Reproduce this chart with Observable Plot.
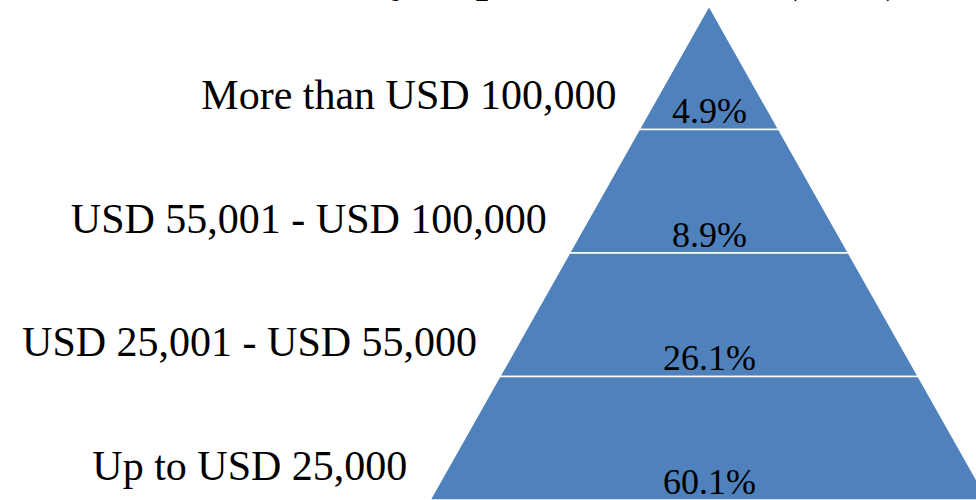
<!DOCTYPE html>
<html>
<head>
<meta charset="utf-8">
<script src="https://cdn.jsdelivr.net/npm/d3@7"></script>
<script src="https://cdn.jsdelivr.net/npm/@observablehq/plot@0.6"></script>
<style>
  html, body { margin: 0; padding: 0; background: #fff; overflow: hidden; }
  #wrap { position: relative; width: 976px; height: 500px; }
  #title { position: absolute; left: 252px; top: -44px; white-space: nowrap;
           font-family: "Liberation Serif", "Times New Roman", serif; font-weight: bold;
           font-size: 44px; line-height: 1; color: #000; }
  #chart { position: absolute; left: 0; top: 0; }
</style>
</head>
<body>
<div id="wrap">
  <div id="chart"></div>
  <div id="title">Monthly Expenditure Level (USD)</div>
</div>
<script>
// Data (top band to bottom band)
const categories = ["More than USD 100,000", "USD 55,001 - USD 100,000", "USD 25,001 - USD 55,000", "Up to USD 25,000"];
const shares = [4.9, 8.9, 26.1, 60.1];

const rows = categories.map((c, i) => ({category: c, share: shares[i], i}));

// Pyramid bands: equal-height levels, width grows with depth
const bandPts = rows.flatMap(r => [
  {category: r.category, y: r.i, x1: -r.i, x2: r.i},
  {category: r.category, y: r.i + 1, x1: -(r.i + 1), x2: r.i + 1}
]);

const chart = Plot.plot({
  width: 976,
  height: 500,
  marginTop: 0, marginBottom: 0, marginLeft: 0, marginRight: 0,
  style: {fontFamily: "Liberation Serif, Times New Roman, serif", background: "transparent", overflow: "visible"},
  x: {domain: [-10.165, 3.828], range: [0, 976], axis: null},
  y: {domain: [0, 4], range: [6, 500], axis: null},
  marks: [
    Plot.areaX(bandPts, {x1: "x1", x2: "x2", y: "y", z: "category", fill: "#4F81BD", stroke: "#ffffff", strokeWidth: 1.5, curve: "linear"}),
    Plot.text(rows, {
      x: d => -(d.i + 0.83), y: d => d.i + 0.83, text: "category",
      textAnchor: "end", lineAnchor: "bottom", dx: -35,
      fontSize: 42, fill: "#000", fontFamily: "Liberation Serif"
    }),
    Plot.text(rows, {
      x: d => 0 * d.i, y: d => d.i + 1, text: d => d.share.toFixed(1) + "%",
      textAnchor: "middle", lineAnchor: "bottom", dy: -7,
      fontSize: 36, fill: "#000", fontFamily: "Liberation Serif"
    })
  ]
});
document.getElementById("chart").appendChild(chart);
</script>
</body>
</html>
